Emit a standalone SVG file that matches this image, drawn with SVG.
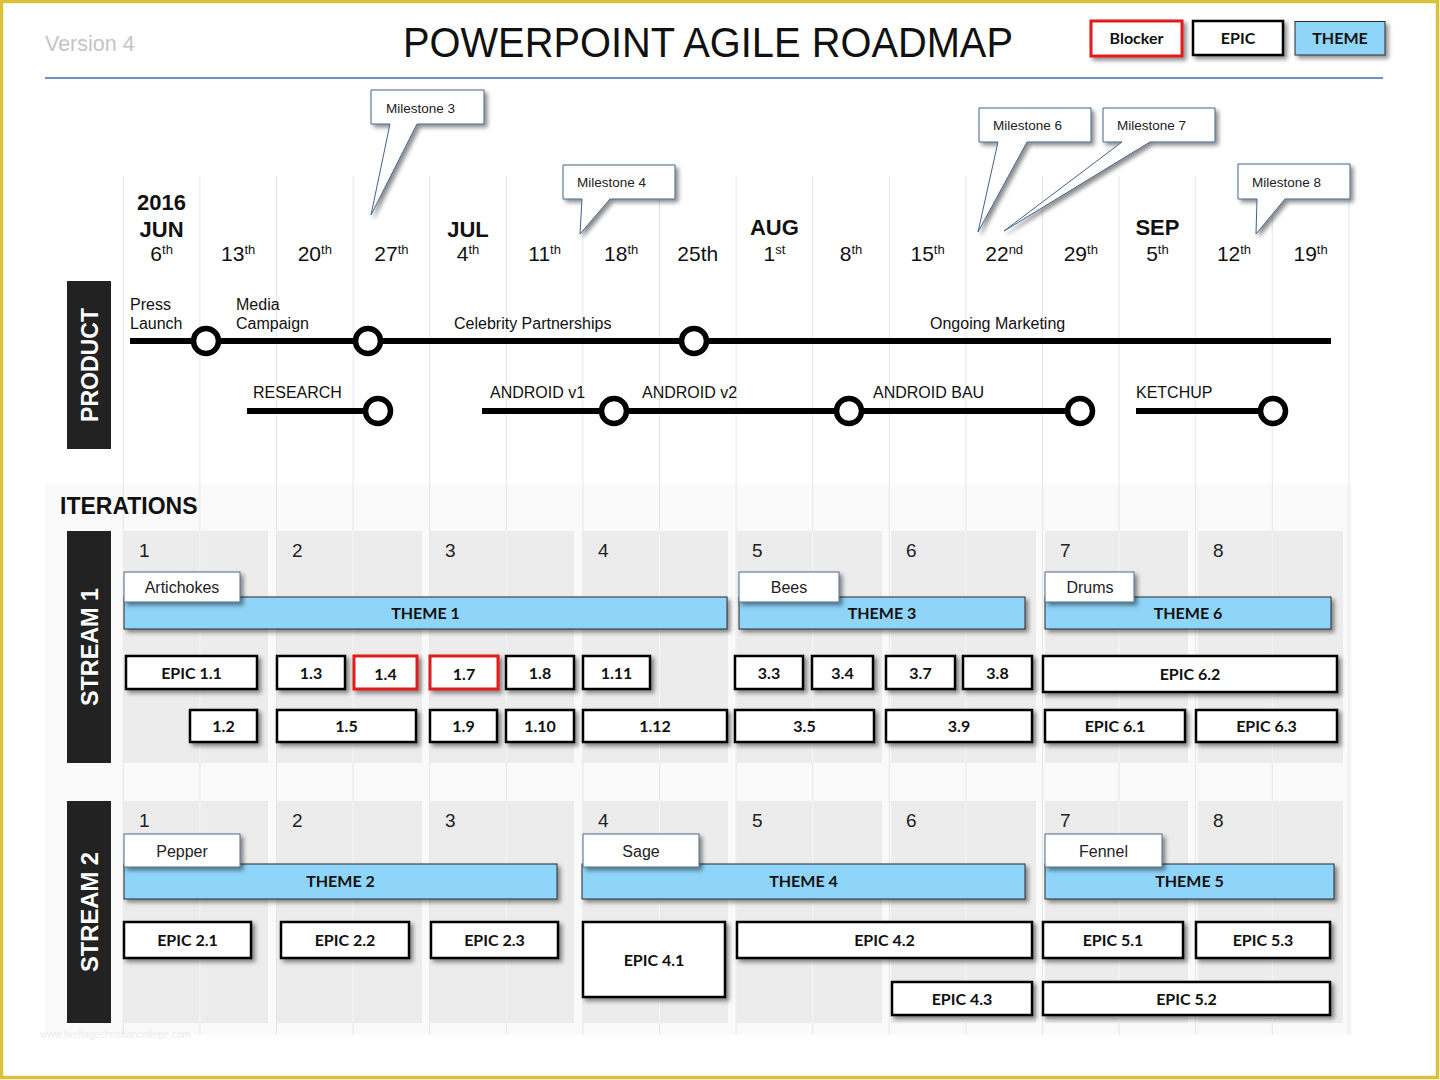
<svg xmlns="http://www.w3.org/2000/svg" width="1440" height="1080" viewBox="0 0 1440 1080">
<defs>
<filter id="sh" x="-10%" y="-30%" width="125%" height="180%"><feDropShadow dx="3" dy="3" stdDeviation="2" flood-color="#000" flood-opacity="0.45"/></filter>
<style>
.grid{stroke:#e6e6e6;stroke-width:1}
.gin{stroke:#f6f6f6;stroke-width:1}
.itb{fill:#ececec}
.epic{fill:#fff;stroke:#000;stroke-width:2.5;filter:url(#sh)}
.blk{fill:#fff;stroke:#e01b1b;stroke-width:3;filter:url(#sh)}
.theme{fill:#8fd5f9;stroke:#2a2a2a;stroke-width:1;filter:url(#sh)}
.lbl{fill:#fff;stroke:#50698c;stroke-width:1;filter:url(#sh)}
.call{fill:#fff;stroke:#45628a;stroke-width:1;filter:url(#sh)}
.et{font-family:Lato,"Liberation Sans",sans-serif;font-weight:700;font-size:16px;text-anchor:middle;fill:#111}
.lt{font-family:"Liberation Sans",Arial,sans-serif;font-size:16px;text-anchor:middle;fill:#222}
.num{font-family:"Liberation Sans",Arial,sans-serif;font-size:19px;fill:#222}
.ms{font-family:"Liberation Sans",Arial,sans-serif;font-size:13.5px;fill:#222}
.pl{font-family:"Liberation Sans",Arial,sans-serif;font-size:16px;fill:#111}
.dt{font-family:"Liberation Sans",Arial,sans-serif;font-size:21px;text-anchor:middle;fill:#111}
.mo{font-family:"Liberation Sans",Arial,sans-serif;font-size:22px;font-weight:700;text-anchor:middle;fill:#111}
.side{fill:#222}
.st{font-family:"Liberation Sans",Arial,sans-serif;font-size:24px;font-weight:700;text-anchor:middle;fill:#fff}
.ln{stroke:#000;stroke-width:6;fill:none}
.nd{fill:#fff;stroke:#000;stroke-width:5.5}
</style>
</defs>
<rect x="0" y="0" width="1440" height="1080" fill="#fff"/>
<rect x="45" y="484" width="1307" height="551" fill="#fafafa"/>

<g id="gridlines">
<line class="grid" x1="123.3" y1="176" x2="123.3" y2="1035"/>
<line class="grid" x1="199.9" y1="176" x2="199.9" y2="1035"/>
<line class="grid" x1="276.5" y1="176" x2="276.5" y2="1035"/>
<line class="grid" x1="353.1" y1="176" x2="353.1" y2="1035"/>
<line class="grid" x1="429.7" y1="176" x2="429.7" y2="1035"/>
<line class="grid" x1="506.3" y1="176" x2="506.3" y2="1035"/>
<line class="grid" x1="582.9" y1="176" x2="582.9" y2="1035"/>
<line class="grid" x1="659.5" y1="176" x2="659.5" y2="1035"/>
<line class="grid" x1="736.1" y1="176" x2="736.1" y2="1035"/>
<line class="grid" x1="812.7" y1="176" x2="812.7" y2="1035"/>
<line class="grid" x1="889.3" y1="176" x2="889.3" y2="1035"/>
<line class="grid" x1="965.9" y1="176" x2="965.9" y2="1035"/>
<line class="grid" x1="1042.5" y1="176" x2="1042.5" y2="1035"/>
<line class="grid" x1="1119.1" y1="176" x2="1119.1" y2="1035"/>
<line class="grid" x1="1195.7" y1="176" x2="1195.7" y2="1035"/>
<line class="grid" x1="1272.3" y1="176" x2="1272.3" y2="1035"/>
<line class="grid" x1="1348.9" y1="176" x2="1348.9" y2="1035"/>
</g>

<g id="header">
<text x="45" y="51" font-family="'Liberation Sans',Arial,sans-serif" font-size="21.5" fill="#c4c4c4">Version 4</text>
<text x="708" y="57" font-family="'Liberation Sans',Arial,sans-serif" font-size="42" text-anchor="middle" textLength="610" lengthAdjust="spacingAndGlyphs" fill="#111">POWERPOINT AGILE ROADMAP</text>
<line x1="45" y1="78" x2="1383" y2="78" stroke="#6f93c0" stroke-width="2"/>
</g>

<g id="legend">
<g id="legend-blocker"><rect class="blk" x="1091" y="21" width="91" height="35"/><text class="et" x="1136.5" y="44" font-size="15">Blocker</text></g>
<g id="legend-epic"><rect class="epic" x="1193" y="21" width="90" height="34"/><text class="et" x="1238" y="44" font-size="15">EPIC</text></g>
<g id="legend-theme"><rect class="theme" x="1295" y="21.5" width="90" height="33.5"/><text class="et" x="1340" y="44" font-size="15">THEME</text></g>
</g>

<g id="dates">
<text class="mo" x="161.6" y="210">2016</text>
<text class="mo" x="161.6" y="237">JUN</text>
<text class="mo" x="468" y="237">JUL</text>
<text class="mo" x="774.4" y="235">AUG</text>
<text class="mo" x="1157.4" y="235">SEP</text>
<text class="dt" x="161.6" y="261">6<tspan font-size="13" dy="-7">th</tspan></text>
<text class="dt" x="238.2" y="261">13<tspan font-size="13" dy="-7">th</tspan></text>
<text class="dt" x="314.8" y="261">20<tspan font-size="13" dy="-7">th</tspan></text>
<text class="dt" x="391.4" y="261">27<tspan font-size="13" dy="-7">th</tspan></text>
<text class="dt" x="468" y="261">4<tspan font-size="13" dy="-7">th</tspan></text>
<text class="dt" x="544.6" y="261">11<tspan font-size="13" dy="-7">th</tspan></text>
<text class="dt" x="621.2" y="261">18<tspan font-size="13" dy="-7">th</tspan></text>
<text class="dt" x="697.8" y="261">25th</text>
<text class="dt" x="774.4" y="261">1<tspan font-size="13" dy="-7">st</tspan></text>
<text class="dt" x="851" y="261">8<tspan font-size="13" dy="-7">th</tspan></text>
<text class="dt" x="927.6" y="261">15<tspan font-size="13" dy="-7">th</tspan></text>
<text class="dt" x="1004.2" y="261">22<tspan font-size="13" dy="-7">nd</tspan></text>
<text class="dt" x="1080.8" y="261">29<tspan font-size="13" dy="-7">th</tspan></text>
<text class="dt" x="1157.4" y="261">5<tspan font-size="13" dy="-7">th</tspan></text>
<text class="dt" x="1234" y="261">12<tspan font-size="13" dy="-7">th</tspan></text>
<text class="dt" x="1310.6" y="261">19<tspan font-size="13" dy="-7">th</tspan></text>
</g>

<g id="milestone-3"><path class="call" d="M371,90 H484 V124 H417 L371,215 L390,124 H371 Z"/><text class="ms" x="386" y="113">Milestone 3</text></g>
<g id="milestone-4"><path class="call" d="M563,165 H675 V199 H610 L580,234 L582,199 H563 Z"/><text class="ms" x="577" y="187">Milestone 4</text></g>
<g id="milestone-6"><path class="call" d="M979,108 H1091 V142 H1027 L978,232 L998,142 H979 Z"/><text class="ms" x="993" y="130">Milestone 6</text></g>
<g id="milestone-7"><path class="call" d="M1103,108 H1215 V142 H1150 L1004,231 L1122,142 H1103 Z"/><text class="ms" x="1117" y="130">Milestone 7</text></g>
<g id="milestone-8"><path class="call" d="M1238,164 H1350 V199 H1285 L1256,234 L1257,199 H1238 Z"/><text class="ms" x="1252" y="187">Milestone 8</text></g>

<g id="product-label"><rect class="side" x="67" y="281" width="44" height="168"/><text class="st" transform="translate(97.5,365) rotate(-90)" textLength="114" lengthAdjust="spacingAndGlyphs">PRODUCT</text></g>

<g id="connectors">
<line class="ln" x1="130" y1="341" x2="1331" y2="341"/>
<line class="ln" x1="247" y1="411" x2="378" y2="411"/>
<line class="ln" x1="482" y1="411" x2="1080" y2="411"/>
<line class="ln" x1="1136" y1="411" x2="1273" y2="411"/>
</g>

<g id="product-labels">
<text class="pl" x="130" y="310">Press</text>
<text class="pl" x="130" y="329">Launch</text>
<text class="pl" x="236" y="310">Media</text>
<text class="pl" x="236" y="329">Campaign</text>
<text class="pl" x="454" y="329">Celebrity Partnerships</text>
<text class="pl" x="930" y="329">Ongoing Marketing</text>
<text class="pl" x="253" y="398">RESEARCH</text>
<text class="pl" x="490" y="398">ANDROID v1</text>
<text class="pl" x="642" y="398">ANDROID v2</text>
<text class="pl" x="873" y="398">ANDROID BAU</text>
<text class="pl" x="1136" y="398">KETCHUP</text>
</g>

<g id="node-press-launch"><circle class="nd" cx="206" cy="341" r="12.5"/></g>
<g id="node-media-campaign"><circle class="nd" cx="368" cy="341" r="12.5"/></g>
<g id="node-celebrity"><circle class="nd" cx="694" cy="341" r="12.5"/></g>
<g id="node-research"><circle class="nd" cx="378" cy="411" r="12.5"/></g>
<g id="node-android-v1"><circle class="nd" cx="614" cy="411" r="12.5"/></g>
<g id="node-android-v2"><circle class="nd" cx="849" cy="411" r="12.5"/></g>
<g id="node-android-bau"><circle class="nd" cx="1080" cy="411" r="12.5"/></g>
<g id="node-ketchup"><circle class="nd" cx="1273" cy="411" r="12.5"/></g>

<g id="iterations-title"><text x="60" y="514" font-family="'Liberation Sans',Arial,sans-serif" font-size="23" font-weight="700" fill="#111">ITERATIONS</text></g>

<g id="stream1-label"><rect class="side" x="67" y="531" width="44" height="232"/><text class="st" transform="translate(97.5,647) rotate(-90)" textLength="118" lengthAdjust="spacingAndGlyphs">STREAM 1</text></g>
<g id="stream2-label"><rect class="side" x="67" y="801" width="44" height="222"/><text class="st" transform="translate(97.5,912) rotate(-90)" textLength="120" lengthAdjust="spacingAndGlyphs">STREAM 2</text></g>

<g id="stream1-iterations">
<rect class="itb" x="124" y="531" width="144" height="232"/>
<rect class="itb" x="277" y="531" width="145" height="232"/>
<rect class="itb" x="430" y="531" width="144" height="232"/>
<rect class="itb" x="583" y="531" width="145" height="232"/>
<rect class="itb" x="737" y="531" width="145" height="232"/>
<rect class="itb" x="891" y="531" width="145" height="232"/>
<rect class="itb" x="1045" y="531" width="143" height="232"/>
<rect class="itb" x="1198" y="531" width="145" height="232"/>
<line class="gin" x1="199.9" y1="531" x2="199.9" y2="763"/>
<line class="gin" x1="353.1" y1="531" x2="353.1" y2="763"/>
<line class="gin" x1="506.3" y1="531" x2="506.3" y2="763"/>
<line class="gin" x1="659.5" y1="531" x2="659.5" y2="763"/>
<line class="gin" x1="812.7" y1="531" x2="812.7" y2="763"/>
<line class="gin" x1="965.9" y1="531" x2="965.9" y2="763"/>
<line class="gin" x1="1119.1" y1="531" x2="1119.1" y2="763"/>
<line class="gin" x1="1272.3" y1="531" x2="1272.3" y2="763"/>
<text class="num" x="139" y="557">1</text>
<text class="num" x="292" y="557">2</text>
<text class="num" x="445" y="557">3</text>
<text class="num" x="598" y="557">4</text>
<text class="num" x="752" y="557">5</text>
<text class="num" x="906" y="557">6</text>
<text class="num" x="1060" y="557">7</text>
<text class="num" x="1213" y="557">8</text>
</g>

<g id="stream2-iterations">
<rect class="itb" x="124" y="801" width="144" height="222"/>
<rect class="itb" x="277" y="801" width="145" height="222"/>
<rect class="itb" x="430" y="801" width="144" height="222"/>
<rect class="itb" x="583" y="801" width="145" height="222"/>
<rect class="itb" x="737" y="801" width="145" height="222"/>
<rect class="itb" x="891" y="801" width="145" height="222"/>
<rect class="itb" x="1045" y="801" width="143" height="222"/>
<rect class="itb" x="1198" y="801" width="145" height="222"/>
<line class="gin" x1="199.9" y1="801" x2="199.9" y2="1023"/>
<line class="gin" x1="353.1" y1="801" x2="353.1" y2="1023"/>
<line class="gin" x1="506.3" y1="801" x2="506.3" y2="1023"/>
<line class="gin" x1="659.5" y1="801" x2="659.5" y2="1023"/>
<line class="gin" x1="812.7" y1="801" x2="812.7" y2="1023"/>
<line class="gin" x1="965.9" y1="801" x2="965.9" y2="1023"/>
<line class="gin" x1="1119.1" y1="801" x2="1119.1" y2="1023"/>
<line class="gin" x1="1272.3" y1="801" x2="1272.3" y2="1023"/>
<text class="num" x="139" y="827">1</text>
<text class="num" x="292" y="827">2</text>
<text class="num" x="445" y="827">3</text>
<text class="num" x="598" y="827">4</text>
<text class="num" x="752" y="827">5</text>
<text class="num" x="906" y="827">6</text>
<text class="num" x="1060" y="827">7</text>
<text class="num" x="1213" y="827">8</text>
</g>

<g id="theme-1"><rect class="theme" x="124" y="597" width="603" height="32"/><text class="et" x="425.5" y="619">THEME 1</text></g>
<g id="theme-3"><rect class="theme" x="739" y="597" width="286" height="32"/><text class="et" x="882" y="619">THEME 3</text></g>
<g id="theme-6"><rect class="theme" x="1045" y="597" width="286" height="32"/><text class="et" x="1188" y="619">THEME 6</text></g>
<g id="label-artichokes"><rect class="lbl" x="124" y="572" width="116" height="30"/><text class="lt" x="182" y="593">Artichokes</text></g>
<g id="label-bees"><rect class="lbl" x="739" y="572" width="100" height="30"/><text class="lt" x="789" y="593">Bees</text></g>
<g id="label-drums"><rect class="lbl" x="1045" y="572" width="89" height="30"/><text class="lt" x="1090" y="593">Drums</text></g>

<g id="epic-1-1"><rect class="epic" x="126" y="656" width="131" height="33"/><text class="et" x="191.5" y="679">EPIC 1.1</text></g>
<g id="epic-1-3"><rect class="epic" x="277" y="656" width="68" height="33"/><text class="et" x="311" y="679">1.3</text></g>
<g id="epic-1-4"><rect class="blk" x="354" y="656" width="63" height="33"/><text class="et" x="385.5" y="680" font-size="17">1.4</text></g>
<g id="epic-1-7"><rect class="blk" x="430" y="656" width="68" height="33"/><text class="et" x="464" y="680" font-size="17">1.7</text></g>
<g id="epic-1-8"><rect class="epic" x="506" y="656" width="68" height="33"/><text class="et" x="540" y="679">1.8</text></g>
<g id="epic-1-11"><rect class="epic" x="583" y="656" width="67" height="33"/><text class="et" x="616.5" y="679">1.11</text></g>
<g id="epic-3-3"><rect class="epic" x="735" y="656" width="68" height="33"/><text class="et" x="769" y="679">3.3</text></g>
<g id="epic-3-4"><rect class="epic" x="812" y="656" width="61" height="33"/><text class="et" x="842.5" y="679">3.4</text></g>
<g id="epic-3-7"><rect class="epic" x="886" y="656" width="69" height="33"/><text class="et" x="920.5" y="679">3.7</text></g>
<g id="epic-3-8"><rect class="epic" x="963" y="656" width="69" height="33"/><text class="et" x="997.5" y="679">3.8</text></g>
<g id="epic-6-2"><rect class="epic" x="1043" y="656" width="294" height="36"/><text class="et" x="1190" y="680">EPIC 6.2</text></g>
<g id="epic-1-2"><rect class="epic" x="190" y="710" width="67" height="32"/><text class="et" x="223.5" y="732">1.2</text></g>
<g id="epic-1-5"><rect class="epic" x="277" y="710" width="139" height="32"/><text class="et" x="346.5" y="732">1.5</text></g>
<g id="epic-1-9"><rect class="epic" x="430" y="710" width="67" height="32"/><text class="et" x="463.5" y="732">1.9</text></g>
<g id="epic-1-10"><rect class="epic" x="506" y="710" width="68" height="32"/><text class="et" x="540" y="732">1.10</text></g>
<g id="epic-1-12"><rect class="epic" x="583" y="710" width="144" height="32"/><text class="et" x="655" y="732">1.12</text></g>
<g id="epic-3-5"><rect class="epic" x="735" y="710" width="139" height="32"/><text class="et" x="804.5" y="732">3.5</text></g>
<g id="epic-3-9"><rect class="epic" x="886" y="710" width="146" height="32"/><text class="et" x="959" y="732">3.9</text></g>
<g id="epic-6-1"><rect class="epic" x="1045" y="710" width="140" height="32"/><text class="et" x="1115" y="732">EPIC 6.1</text></g>
<g id="epic-6-3"><rect class="epic" x="1196" y="710" width="141" height="32"/><text class="et" x="1266.5" y="732">EPIC 6.3</text></g>

<g id="theme-2"><rect class="theme" x="124" y="864" width="433" height="35"/><text class="et" x="340.5" y="887">THEME 2</text></g>
<g id="theme-4"><rect class="theme" x="582" y="864" width="443" height="35"/><text class="et" x="803.5" y="887">THEME 4</text></g>
<g id="theme-5"><rect class="theme" x="1045" y="864" width="289" height="35"/><text class="et" x="1189.5" y="887">THEME 5</text></g>
<g id="label-pepper"><rect class="lbl" x="124" y="834" width="116" height="33"/><text class="lt" x="182" y="857">Pepper</text></g>
<g id="label-sage"><rect class="lbl" x="583" y="834" width="116" height="33"/><text class="lt" x="641" y="857">Sage</text></g>
<g id="label-fennel"><rect class="lbl" x="1045" y="834" width="117" height="33"/><text class="lt" x="1103.5" y="857">Fennel</text></g>

<g id="epic-2-1"><rect class="epic" x="124" y="922" width="127" height="36"/><text class="et" x="187.5" y="946">EPIC 2.1</text></g>
<g id="epic-2-2"><rect class="epic" x="281" y="922" width="128" height="36"/><text class="et" x="345" y="946">EPIC 2.2</text></g>
<g id="epic-2-3"><rect class="epic" x="431" y="922" width="127" height="36"/><text class="et" x="494.5" y="946">EPIC 2.3</text></g>
<g id="epic-4-1"><rect class="epic" x="583" y="922" width="142" height="75"/><text class="et" x="654" y="966">EPIC 4.1</text></g>
<g id="epic-4-2"><rect class="epic" x="737" y="922" width="295" height="36"/><text class="et" x="884.5" y="946">EPIC 4.2</text></g>
<g id="epic-5-1"><rect class="epic" x="1043" y="922" width="140" height="36"/><text class="et" x="1113" y="946">EPIC 5.1</text></g>
<g id="epic-5-3"><rect class="epic" x="1196" y="922" width="134" height="36"/><text class="et" x="1263" y="946">EPIC 5.3</text></g>
<g id="epic-4-3"><rect class="epic" x="892" y="982" width="140" height="33"/><text class="et" x="962" y="1005">EPIC 4.3</text></g>
<g id="epic-5-2"><rect class="epic" x="1043" y="982" width="287" height="33"/><text class="et" x="1186.5" y="1005">EPIC 5.2</text></g>

<text x="40" y="1038" font-family="'Liberation Sans',Arial,sans-serif" font-size="10" fill="#ececec">www.heritagechristiancollege.com</text>
<rect x="1.5" y="1.5" width="1436" height="1076" fill="none" stroke="#d9c13a" stroke-width="3.5"/>
</svg>
